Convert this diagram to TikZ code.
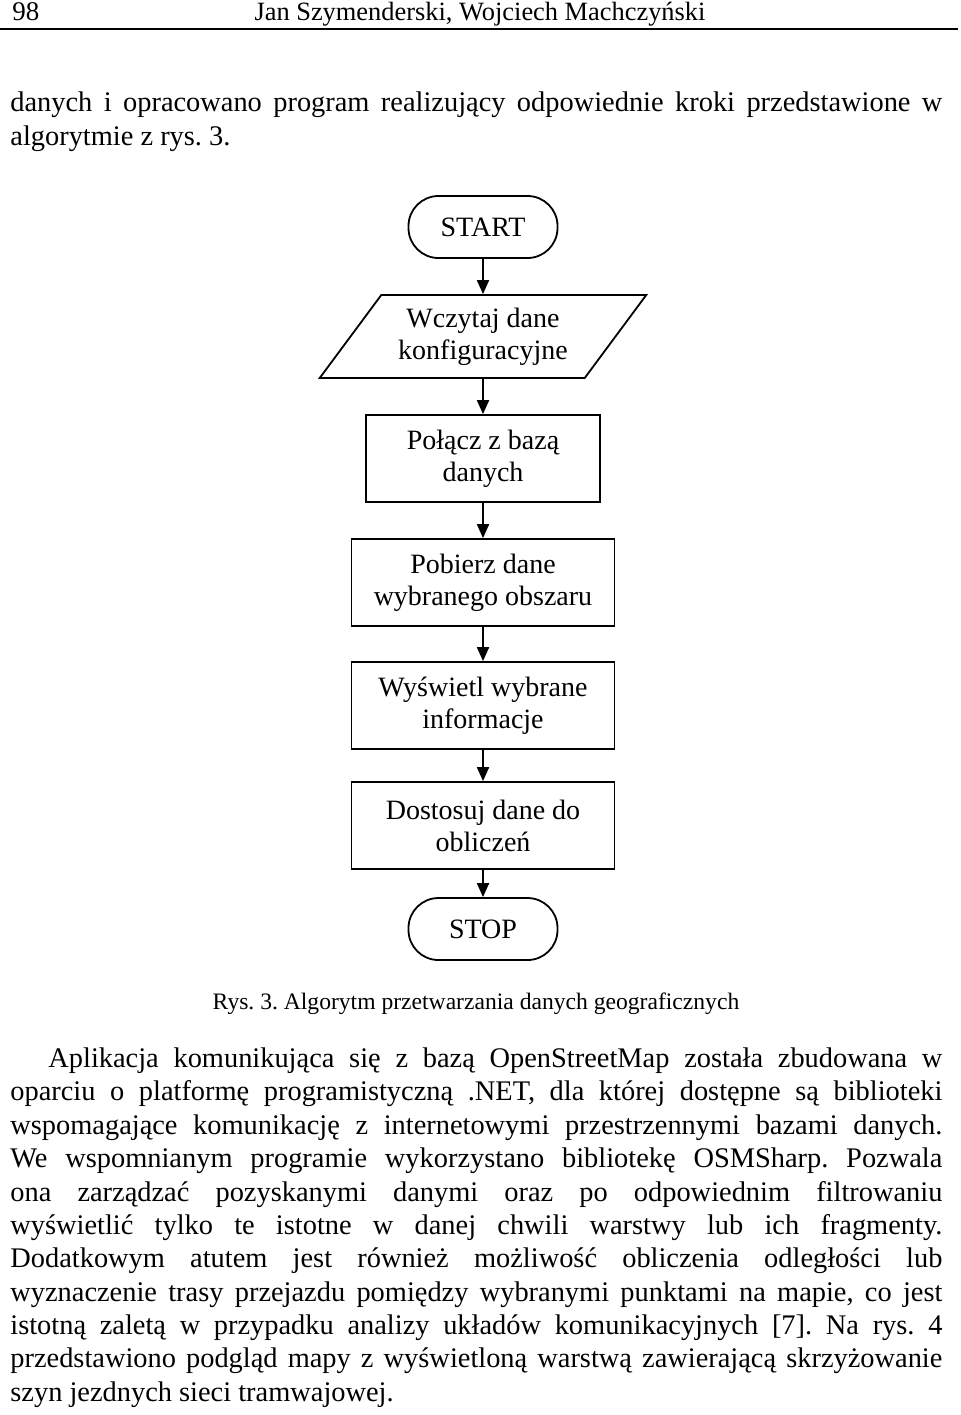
\documentclass[tikz,border=0pt]{standalone}
\usepackage{fontspec}
\setmainfont{Liberation Serif}
\usetikzlibrary{shapes.geometric, arrows.meta, positioning}
\tikzset{
    terminal/.style={rectangle, rounded corners=15pt, minimum width=74.5pt, minimum height=31pt, text centered, draw=black, line width=0.9pt, font=\fontsize{14}{16}\selectfont},
    io/.style={trapezium, trapezium left angle=52, trapezium right angle=128, trapezium stretches=true, minimum width=163.5pt, minimum height=41.5pt, align=center, draw=black, line width=0.9pt, font=\fontsize{14}{16}\selectfont},
    process/.style={rectangle, minimum width=131.5pt, minimum height=43.5pt, align=center, draw=black, line width=0.9pt, font=\fontsize{14}{16}\selectfont},
    arrow/.style={line width=0.9pt, -{Triangle[length=7pt,width=6pt]}},
    textline/.style={anchor=west, inner sep=0pt, text height=0.7em, text depth=0.2em, font=\fontsize{14.2}{16}\selectfont},
}
\begin{document}
\frenchspacing
\begin{tikzpicture}[x=0.5pt,y=-0.5pt,node distance=17.6pt]
  \useasboundingbox (0,0) rectangle (960,1415);

  % page header
  \node[textline, font=\fontsize{13.5}{16}\selectfont] (pagenum) at (12,15) {98};
  \node[textline, anchor=center, font=\fontsize{13.2}{16}\selectfont] (authors) at (480,15) {Jan Szymenderski, Wojciech Machczyński};
  \draw[line width=1.1pt] (0,29) -- (958,29);

  \node[textline] (t1) at (10,106) {\makebox[466pt][s]{danych i opracowano program realizujący odpowiednie kroki przedstawione w}};
  \node[textline] (t2) at (10,140) {algorytmie z rys. 3.};

  % flowchart
  \node[terminal] (start) at (483,227) {START};
  \node[io] (read) [below=of start] {Wczytaj dane\\konfiguracyjne};
  \node[process, minimum width=117pt] (connect) [below=of read] {Połącz z bazą\\danych};
  \node[process] (fetch) [below=of connect] {Pobierz dane\\wybranego obszaru};
  \node[process] (show) [below=17.1pt of fetch] {Wyświetl wybrane\\informacje};
  \node[process] (adjust) [below=15.6pt of show] {Dostosuj dane do\\obliczeń};
  \node[terminal] (stop) [below=13.6pt of adjust] {STOP};

  \draw[arrow] (start) -- (read);
  \draw[arrow] (read) -- (connect);
  \draw[arrow] (connect) -- (fetch);
  \draw[arrow] (fetch) -- (show);
  \draw[arrow] (show) -- (adjust);
  \draw[arrow] (adjust) -- (stop);

  \node[textline, anchor=center, font=\fontsize{11.8}{14}\selectfont] (caption) at (476,1004) {Rys. 3. Algorytm przetwarzania danych geograficznych};

  % paragraph
  \node[textline] (p1) at (48,1062) {\makebox[447pt][s]{Aplikacja komunikująca się z bazą OpenStreetMap została zbudowana w}};
  \node[textline] (p2) at (10,1095) {\makebox[466pt][s]{oparciu o platformę programistyczną .NET, dla której dostępne są biblioteki}};
  \node[textline] (p3) at (10,1129) {\makebox[466pt][s]{wspomagające komunikację z internetowymi przestrzennymi bazami danych.}};
  \node[textline] (p4) at (10,1162) {\makebox[466pt][s]{We wspomnianym programie wykorzystano bibliotekę OSMSharp. Pozwala}};
  \node[textline] (p5) at (10,1196) {\makebox[466pt][s]{ona zarządzać pozyskanymi danymi oraz po odpowiednim filtrowaniu}};
  \node[textline] (p6) at (10,1229) {\makebox[466pt][s]{wyświetlić tylko te istotne w danej chwili warstwy lub ich fragmenty.}};
  \node[textline] (p7) at (10,1262) {\makebox[466pt][s]{Dodatkowym atutem jest również możliwość obliczenia odległości lub}};
  \node[textline] (p8) at (10,1296) {\makebox[466pt][s]{wyznaczenie trasy przejazdu pomiędzy wybranymi punktami na mapie, co jest}};
  \node[textline] (p9) at (10,1329) {\makebox[466pt][s]{istotną zaletą w przypadku analizy układów komunikacyjnych [7]. Na rys. 4}};
  \node[textline] (p10) at (10,1362) {\makebox[466pt][s]{przedstawiono podgląd mapy z wyświetloną warstwą zawierającą skrzyżowanie}};
  \node[textline] (p11) at (10,1396) {szyn jezdnych sieci tramwajowej.};
\end{tikzpicture}
\end{document}
